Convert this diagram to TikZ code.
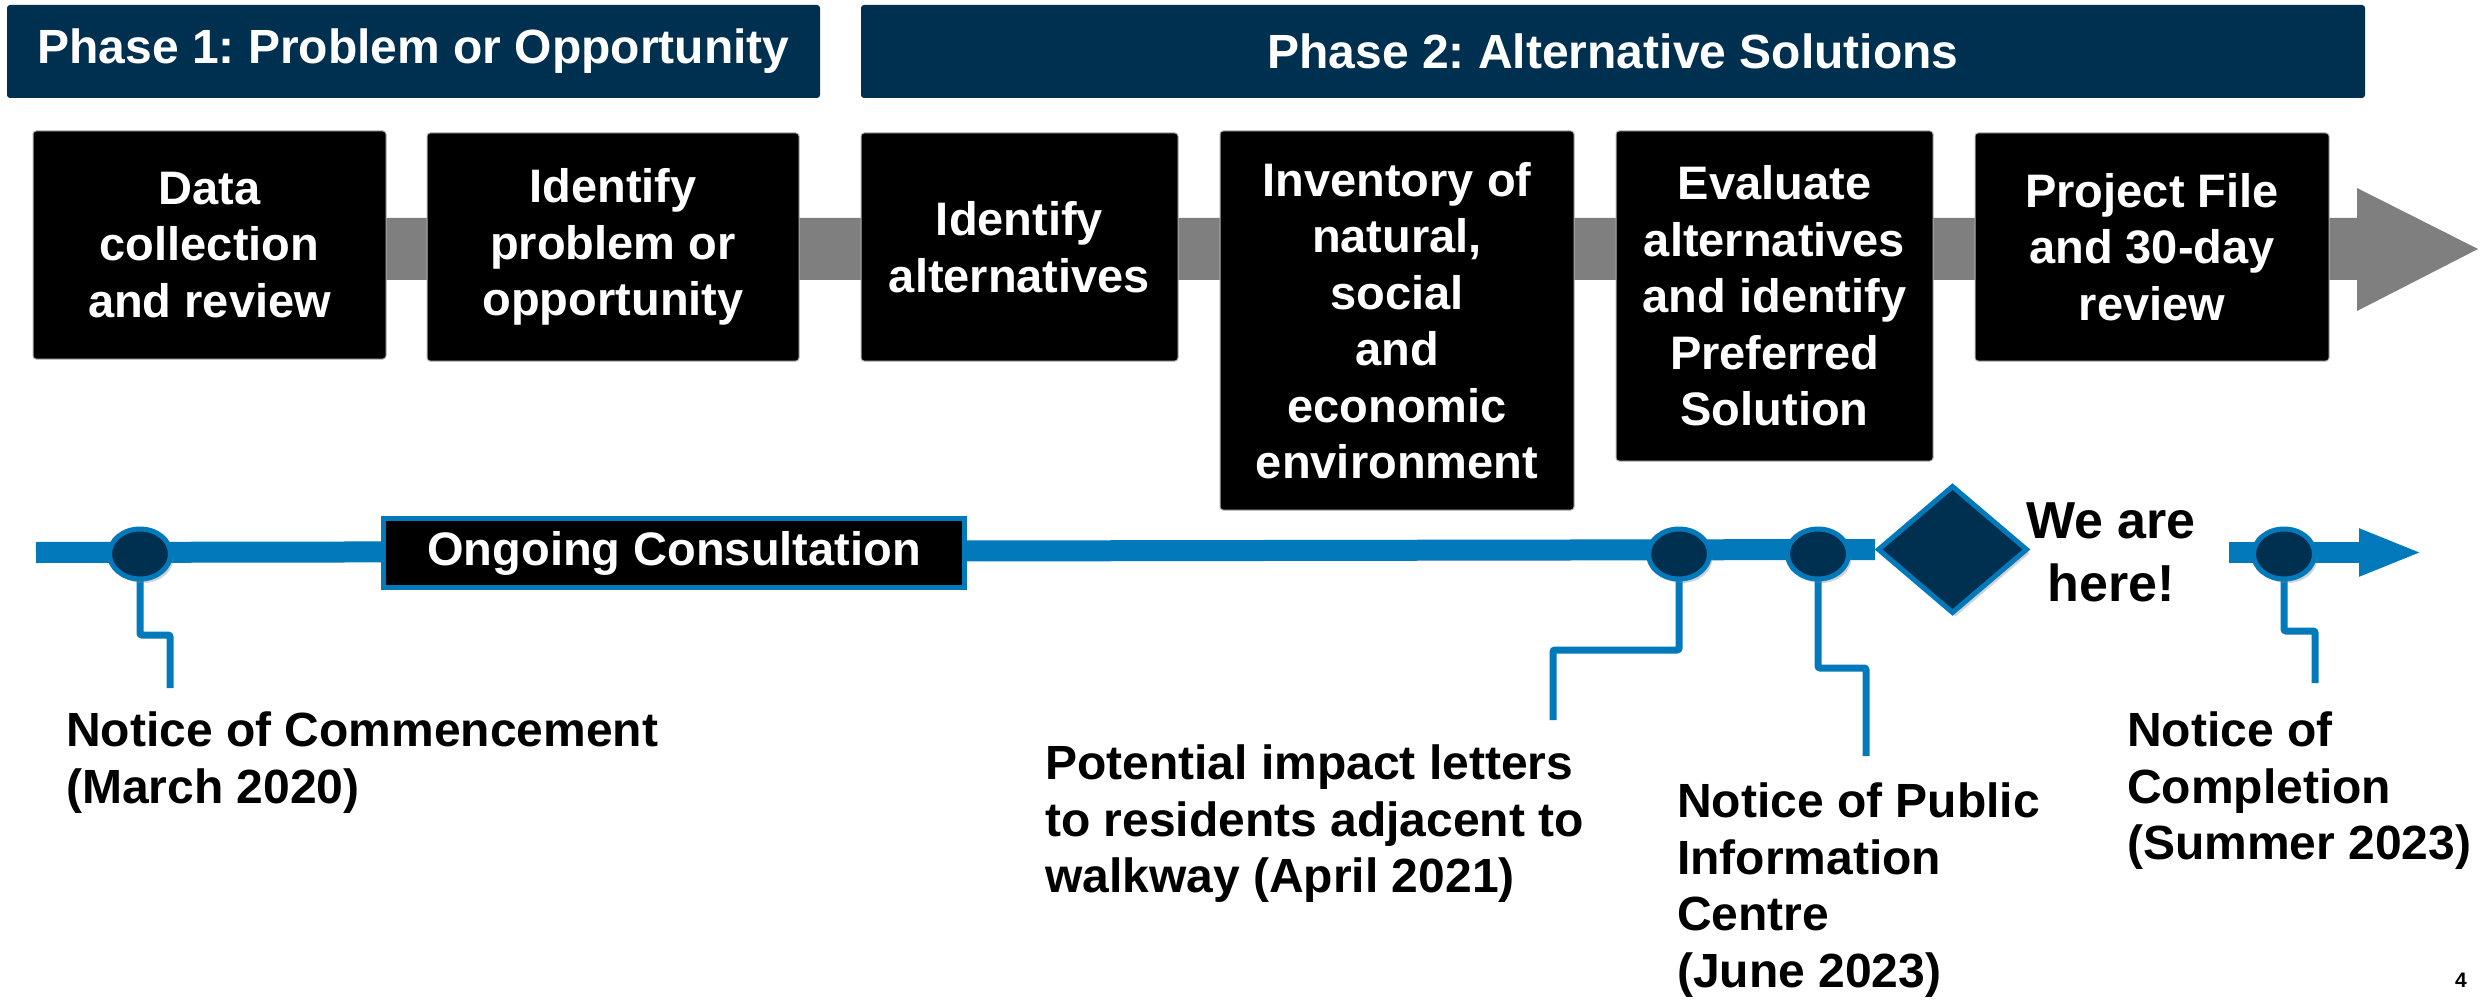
\documentclass[tikz,border=0pt]{standalone}
\usepackage{fontspec}
\setmainfont{Liberation Sans}
\usetikzlibrary{shapes.geometric,shadows,arrows.meta}
\definecolor{navy}{HTML}{003050}
\definecolor{tblue}{HTML}{0279BA}
\definecolor{bandgray}{HTML}{7F7F7F}
\pgfdeclarelayer{lowlayer}
\pgfsetlayers{lowlayer,main}
\frenchspacing
\begin{document}
\begin{tikzpicture}[x=1pt,y=-1pt,
  bigfont/.style={font=\fontsize{47}{56.5}\selectfont\bfseries},
  lblfont/.style={font=\fontsize{48}{56.5}\selectfont\bfseries},
  header/.style={fill=navy, text=white, rounded corners=3pt, inner sep=0pt,
    font=\fontsize{48}{57.6}\selectfont\bfseries},
  stepbox/.style={fill=black, draw=gray!60, line width=1pt, text=white,
    rounded corners=3pt, inner sep=0pt, align=center, bigfont},
  consult/.style={fill=black, draw=tblue, line width=5pt, text=white,
    inner sep=0pt, bigfont},
  evt/.style={ellipse, fill=navy, draw=tblue, line width=5pt, inner sep=0pt,
    minimum width=61pt, minimum height=50pt,
    drop shadow={opacity=0.35, shadow xshift=3pt, shadow yshift=-4pt}},
  here/.style={diamond, fill=navy, draw=tblue, line width=5pt, inner sep=0pt,
    minimum width=150pt, minimum height=128pt,
    drop shadow={opacity=0.35, shadow xshift=3pt, shadow yshift=-4pt}},
  tl/.style={draw=tblue, line width=21pt},
  leader/.style={draw=tblue, line width=7pt, rounded corners=2pt},
  lbl/.style={anchor=north west, inner sep=0pt, align=left, text=black, lblfont},
]
\useasboundingbox (0,0) rectangle (2481,1000);

% gray process arrow
\fill[bandgray] (40,218) -- (2357,218) -- (2357,188) -- (2478,249)
  -- (2357,311) -- (2357,280) -- (40,280) -- cycle;

% phase headers
\node[header, minimum width=813pt, minimum height=93pt] (h1) at (413.5,51.5)
  {Phase 1: Problem or Opportunity};
\node[header, minimum width=1504pt, minimum height=93pt] (h2) at (1613,51.5)
  {Phase 2: Alternative Solutions};

% step boxes
\node[stepbox, minimum width=353pt, minimum height=228pt] (b1) at (209.5,245)
  {Data\\collection\\and review};
\node[stepbox, minimum width=372pt, minimum height=228pt] (b2) at (613,247)
  {Identify\\problem or\\opportunity};
\node[stepbox, minimum width=317pt, minimum height=228pt] (b3) at (1019.5,247)
  {Identify\\alternatives};
\node[stepbox, minimum width=354pt, minimum height=379pt] (b4) at (1397,320.5)
  {Inventory of\\natural,\\social\\and\\economic\\environment};
\node[stepbox, minimum width=317pt, minimum height=330pt] (b5) at (1774.5,296)
  {Evaluate\\alternatives\\and identify\\Preferred\\Solution};
\node[stepbox, minimum width=354pt, minimum height=228pt] (b6) at (2152,247)
  {Project File\\and 30-day\\review};

% timeline
\coordinate (tstart) at (36,552.5);
\node[here] (dia) at (1952.5,549.5) {};
\draw[tl] (tstart) -- (dia.west);
\coordinate (t2s) at (2229,552.5);
\coordinate (t2e) at (2423,552.5);
\draw[tl, -{Triangle[length=64pt,width=43pt]}] (t2s) -- (t2e);

\node[consult, minimum width=581pt, minimum height=69pt] (oc) at (674,553)
  {Ongoing Consultation};

% events
\node[evt] (c1) at (140,554) {};
\node[evt] (c2) at (1679,554) {};
\node[evt] (c3) at (1818,554) {};
\node[evt] (c4) at (2284,554) {};

% leader end points
\coordinate (e1) at (170,688);
\coordinate (e2) at (1553,720);
\coordinate (e3) at (1866,756);
\coordinate (e4) at (2315,683);

\begin{pgfonlayer}{lowlayer}
\draw[leader] (c1.center) -- (c1.center |- 0,635) -- (e1 |- 0,635) -- (e1);
\draw[leader] (c2.center) -- (c2.center |- 0,650) -- (e2 |- 0,650) -- (e2);
\draw[leader] (c3.center) -- (c3.center |- 0,668) -- (e3 |- 0,668) -- (e3);
\draw[leader] (c4.center) -- (c4.center |- 0,631) -- (e4 |- 0,631) -- (e4);
\end{pgfonlayer}

% labels
\node[lbl] (t1) at (66,712) {Notice of Commencement\\(March 2020)};
\node[lbl] (t2) at (1045,745) {Potential impact letters\\to residents adjacent to\\walkway (April 2021)};
\node[lbl] (t3) at (1677,783) {Notice of Public\\Information\\Centre\\(June 2023)};
\node[lbl] (t4) at (2127,712) {Notice of\\Completion\\(Summer 2023)};

\node[anchor=north, inner sep=0pt, align=center,
  font=\fontsize{52}{63}\selectfont\bfseries] (we) at (2111,503) {We are\\here!};

\node[inner sep=0pt, font=\fontsize{21}{25}\selectfont\bfseries] (pg) at (2461,980) {4};
\end{tikzpicture}
\end{document}
